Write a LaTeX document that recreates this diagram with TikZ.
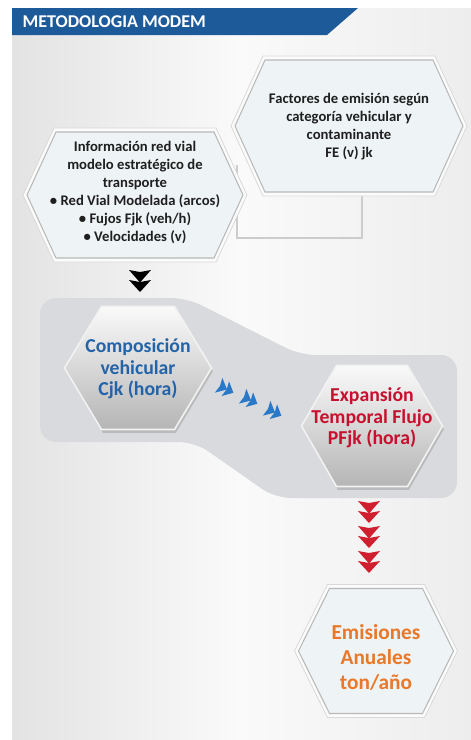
\documentclass[tikz,border=0pt]{standalone}
\usepackage{fontspec}
\setmainfont{Carlito}
\usetikzlibrary{calc,shadows}
\definecolor{hdrblue}{HTML}{1D5A9A}
\definecolor{txtblue}{HTML}{2363A8}
\definecolor{txtred}{HTML}{C8102E}
\definecolor{txtorange}{HTML}{E8782A}
\definecolor{arrred}{HTML}{D01F2E}
\definecolor{arrblue}{HTML}{2A78C8}
\definecolor{bandgray}{HTML}{D9DADD}
\definecolor{hexfill}{HTML}{EEF3F5}
% #1 centre, #2 width, #3 height, #4 inset, #5 style
\newcommand\hexdraw[5]{%
  \path[#5] ($(#1)+({-(#2)/2},0)$) -- ($(#1)+({-(#2)/2+(#4)},{-(#3)/2})$)
    -- ($(#1)+({(#2)/2-(#4)},{-(#3)/2})$) -- ($(#1)+({(#2)/2},0)$)
    -- ($(#1)+({(#2)/2-(#4)},{(#3)/2})$) -- ($(#1)+({-(#2)/2+(#4)},{(#3)/2})$) -- cycle;}
\tikzset{
  dchev/.pic={
    \fill (-11,-11) -- (0,-9) -- (11,-11) -- (0,1.5) -- cycle;
    \fill (-11,-1) -- (0,1) -- (11,-1) -- (0,11) -- cycle;},
  lighthex/.style={fill=hexfill, draw=gray!55, line width=0.8},
  lightrim/.style={fill=white!97!gray, draw=gray!30, line width=0.6},
  metalhex/.style={top color=white!96!gray, bottom color=gray!58, draw=white!90!gray, line width=1.2,
     drop shadow={opacity=0.35, shadow xshift=1pt, shadow yshift=-2.5pt}},
  smalltxt/.style={align=center, text=black!88, font=\bfseries\fontsize{11}{13.5}\selectfont},
  bigtxt/.style={align=center, font=\bfseries\fontsize{14.8}{16}\selectfont},
}
\begin{document}
\begin{tikzpicture}[x=0.75pt,y=-0.75pt]
\useasboundingbox (0,0) rectangle (471,740);
\fill[white] (0,0) rectangle (471,740);
% panel
\shade[left color=gray!22, right color=gray!14, middle color=gray!4] (12,8) rectangle (471,740);
% header
\fill[hdrblue] (12,8) -- (358,8) -- (327,35) -- (12,35) -- cycle;
\node[anchor=west, text=white, font=\bfseries\fontsize{13.5}{13.5}\selectfont] (hdr) at (18,22) {METODOLOGIA MODEM};
% centres
\coordinate (c1) at (135,195);
\coordinate (c2) at (349,126);
\coordinate (c3) at (138,368);
\coordinate (c4) at (372,426);
\coordinate (c5) at (376,651);
% bracket line behind hexagons
\coordinate (b1) at (237,165);
\coordinate (b2) at (362,190);
\draw[gray!40, line width=0.8] (b1) |- (b2 |- 0,238) -- (b2);
% grey band
\fill[bandgray, rounded corners=12] (40,298) -- (187,298) -- (300,355) -- (457,355) -- (457,498) -- (275,498) -- (195,442) -- (40,442) -- cycle;
% light hexagons
\hexdraw{c2}{236}{140}{32}{lightrim}
\hexdraw{c2}{228}{132}{30}{lighthex}
\hexdraw{c1}{224}{134}{31}{lightrim}
\hexdraw{c1}{216}{126}{29}{lighthex}
\hexdraw{c5}{163}{133}{33}{lightrim}
\hexdraw{c5}{155}{125}{31}{lighthex}
% metal hexagons
\hexdraw{c3}{147}{123}{37}{metalhex}
\hexdraw{c4}{141}{121}{35}{metalhex}
% texts
\node[smalltxt] (info) at (135,192) {Información red vial\\modelo estratégico de\\transporte\\• Red Vial Modelada (arcos)\\• Fujos Fjk (veh/h)\\• Velocidades (v)};
\node[smalltxt] (fact) at (349,127) {Factores de emisión según\\categoría vehicular y\\contaminante\\FE (v) jk};
\node[bigtxt, text=txtblue] (comp) at (138,369) {Composición\\vehicular\\Cjk (hora)};
\node[bigtxt, text=txtred] (exp) at (372,418) {Expansión\\Temporal Flujo\\PFjk (hora)};
\node[align=center, text=txtorange, font=\bfseries\fontsize{16}{18.75}\selectfont] (emis) at (376,657) {Emisiones\\Anuales\\ton/año};
% chevrons
\pic[black] at (140,281) {dchev};
\pic[arrblue, scale=0.75, rotate=63] at (226,389) {dchev};
\pic[arrblue, scale=0.75, rotate=63] at (250,400) {dchev};
\pic[arrblue, scale=0.75, rotate=63] at (274,412) {dchev};
\pic[arrred] at (369,512) {dchev};
\pic[arrred] at (369,537) {dchev};
\pic[arrred] at (369,562) {dchev};
\end{tikzpicture}
\end{document}
